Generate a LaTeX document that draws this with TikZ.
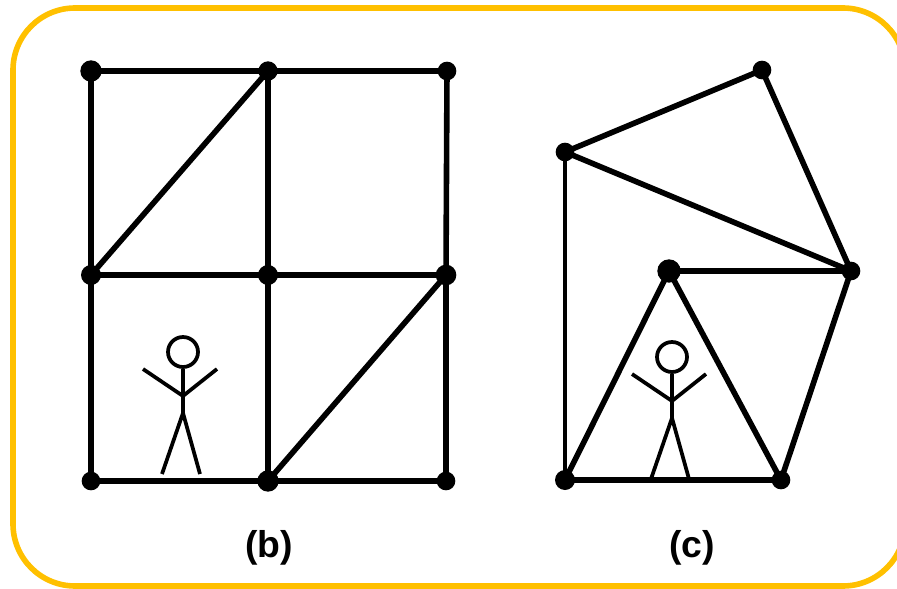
\documentclass[tikz,border=0pt]{standalone}
\usepackage{fontspec}
\usepackage{xcolor}
\setmainfont{Liberation Sans}
\definecolor{frameline}{RGB}{255,192,0}

\tikzset{
    meshdot/.style={circle, fill=black, inner sep=0pt, minimum size=#1},
    meshdot/.default=14pt,
    meshedge/.style={line width=4.2pt},
    caption/.style={font=\bfseries\fontsize{28pt}{30pt}\selectfont},
    stickman/.pic={
        \node[circle, draw, fill=white, line width=2.8pt, inner sep=0pt, minimum size=22.5pt] (-head) at (0,0) {};
        \coordinate (-hip) at (0,61);
        \coordinate (-chest) at (0,44);
        \draw[line width=2.8pt] (-head) -- (-hip);
        \draw[line width=2.8pt] (-40,17) -- (-chest) -- (34,17);
        \draw[line width=2.8pt] (-21,122) -- (-hip) -- (17,122);
    }
}

\begin{document}
\begin{tikzpicture}[x=0.75pt, y=-0.75pt]
    \useasboundingbox (0,0) rectangle (897,589);
    \clip (0,0) rectangle (897,589);
    \draw[frameline, line width=4.2pt, rounded corners=46.5pt] (13,8) rectangle (905,586);

    % left mesh
    \node[meshdot, minimum width=14pt, minimum height=16pt] (b1) at (91,71) {};
    \node[meshdot=14.5pt] (b2) at (268,71) {};
    \node[meshdot] (b3) at (447,71) {};
    \node[meshdot=15pt] (b4) at (91,275) {};
    \node[meshdot=15pt] (b5) at (268,275) {};
    \node[meshdot=15.5pt] (b6) at (446,275) {};
    \node[meshdot] (b7) at (91,481) {};
    \node[meshdot, minimum width=16pt, minimum height=15pt] (b8) at (268,481) {};
    \node[meshdot] (b9) at (446,481) {};
    \foreach \from/\to in {b1/b2, b2/b3, b4/b5, b5/b6, b7/b8, b8/b9, b1/b4, b4/b7, b2/b5, b5/b8, b3/b6, b6/b9, b4/b2, b8/b6}
        \draw[meshedge] (\from.center) -- (\to.center);
    \pic (manb) at (183,352) {stickman};
    \node[caption] (labelb) at (269,548) {(b)};

    % right mesh
    \node[meshdot] (c1) at (762,70) {};
    \node[meshdot] (c2) at (565,152) {};
    \node[meshdot] (c3) at (851,271) {};
    \node[meshdot, minimum width=17.5pt, minimum height=15pt] (c4) at (669,271) {};
    \node[meshdot=15pt] (c5) at (565,480) {};
    \node[meshdot] (c6) at (781,480) {};
    \foreach \from/\to in {c1/c2, c1/c3, c2/c3, c3/c4, c3/c6, c4/c5, c4/c6, c5/c6}
        \draw[meshedge] (\from.center) -- (\to.center);
    \draw[line width=3.6pt] (c2.center) -- (c5.center);
    \pic (manc) at (672,357) {stickman};
    \node[caption] (labelc) at (692,548) {(c)};
\end{tikzpicture}
\end{document}
